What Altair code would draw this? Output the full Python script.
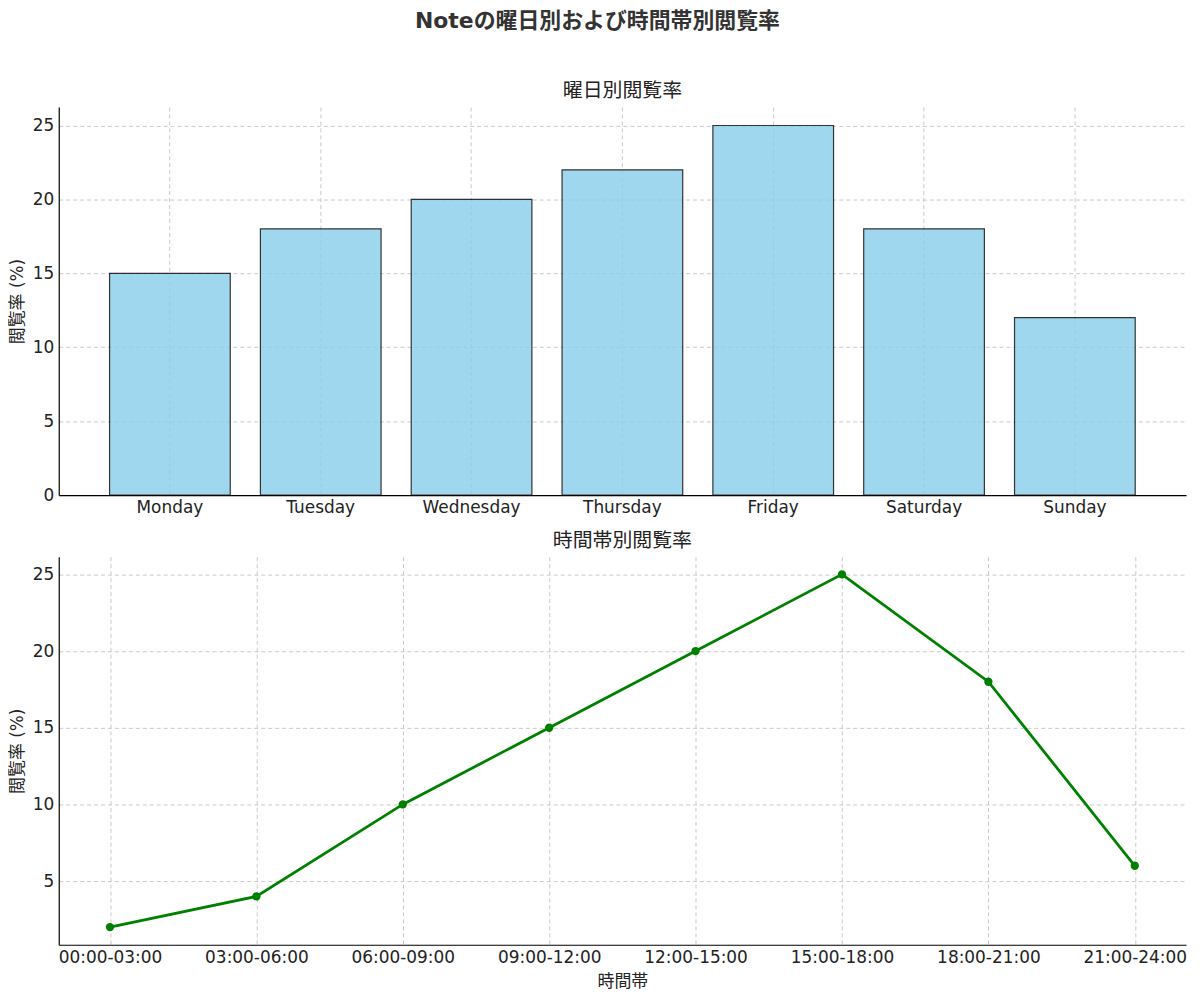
import altair as alt
import pandas as pd

days = ["Monday", "Tuesday", "Wednesday", "Thursday", "Friday", "Saturday", "Sunday"]
day_vals = [15, 18, 20, 22, 25, 18, 12]

slots = ["00:00-03:00", "03:00-06:00", "06:00-09:00", "09:00-12:00",
         "12:00-15:00", "15:00-18:00", "18:00-21:00", "21:00-24:00"]
slot_vals = [2, 4, 10, 15, 20, 25, 18, 6]

main_title = "Noteの曜日別および時間帯別閲覧率"
top_title = "曜日別閲覧率"
bottom_title = "時間帯別閲覧率"
y_label = "閲覧率 (%)"
x_label = "時間帯"

FONT = "DejaVu Sans, Noto Sans CJK JP, sans-serif"

df_days = pd.DataFrame({"day": days, "val": day_vals})
df_slots = pd.DataFrame({"slot": slots, "val": slot_vals})

W, H = 1133, 390

axis_common = dict(
    grid=True,
    gridColor="#c4c4c4",
    gridDash=[4, 3],
    gridWidth=0.9,
    domainColor="#000000",
    domainWidth=1.2,
    ticks=False,
    labelFontSize=17,
    labelColor="#222222",
    labelFont=FONT,
    titleFont=FONT,
    titleFontSize=17,
    titleFontWeight="normal",
    titleColor="#222222",
)

bars = alt.Chart(df_days).mark_bar(
    color="#87CEEB", opacity=0.8, stroke="#000000", strokeWidth=1.2
).encode(
    x=alt.X("day:N", sort=days,
            scale=alt.Scale(paddingInner=0.2, paddingOuter=0.337),
            axis=alt.Axis(title=None, labelAngle=0, bandPosition=0.5, labelPadding=5, **axis_common)),
    y=alt.Y("val:Q",
            scale=alt.Scale(domain=[0, 26.25], nice=False, zero=False),
            axis=alt.Axis(title=y_label, values=[0, 5, 10, 15, 20, 25], labelPadding=5,
                          titlePadding=6, **axis_common)),
).properties(
    width=W, height=H,
    title=alt.TitleParams(top_title, font=FONT, fontSize=20, fontWeight="normal",
                          color="#222222", offset=6),
)

base2 = alt.Chart(df_slots).encode(
    x=alt.X("slot:N", sort=slots,
            scale=alt.Scale(type="point", padding=0.35),
            axis=alt.Axis(title=x_label, labelAngle=0, labelPadding=5, titlePadding=8, **axis_common)),
    y=alt.Y("val:Q",
            scale=alt.Scale(domain=[0.85, 26.15], nice=False, zero=False),
            axis=alt.Axis(title=y_label, values=[5, 10, 15, 20, 25], labelPadding=5,
                          titlePadding=6, **axis_common)),
)
line = base2.mark_line(color="#008000", strokeWidth=2.8)
pts = base2.mark_circle(color="#008000", size=70, opacity=1)

bottom = (line + pts).properties(
    width=W, height=H,
    title=alt.TitleParams(bottom_title, font=FONT, fontSize=20, fontWeight="normal",
                          color="#222222", offset=6),
)

chart = alt.vconcat(bars, bottom, spacing=15).properties(
    title=alt.TitleParams(main_title, font=FONT, fontSize=22, fontWeight="bold",
                          color="#333333", anchor="middle", offset=48),
    padding={"left": 0, "top": 0, "right": 5, "bottom": 5},
).configure_view(stroke=None)

chart.save("out.html", embed_options={"renderer": "svg", "actions": False})
